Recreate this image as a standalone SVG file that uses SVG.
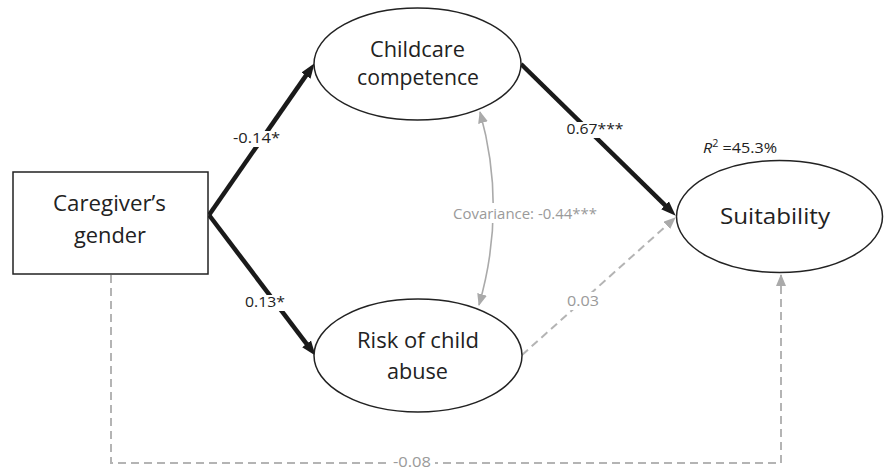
<svg xmlns="http://www.w3.org/2000/svg" width="885" height="470" viewBox="0 0 885 470">
<style>
.node{fill:#fff;stroke:#222;stroke-width:1.5}
.nt{font-family:"Open Sans","Liberation Sans",sans-serif;font-size:21px;fill:#222;text-anchor:middle}
.lbl{font-family:"Open Sans","Liberation Sans",sans-serif;font-size:15px;fill:#222;text-anchor:middle}
.glbl{font-family:"Open Sans","Liberation Sans",sans-serif;font-size:15px;fill:#9a9a9a;text-anchor:middle}
.bold{fill:none;stroke:#1a1a1a;stroke-width:4.5}
.grey{fill:none;stroke:#aaa;stroke-width:1.6}
.dash{fill:none;stroke:#b4b4b4;stroke-width:2;stroke-dasharray:8,5}
.bg{fill:#fff}
</style>
<defs>
<marker id="ab" markerUnits="userSpaceOnUse" markerWidth="16" markerHeight="12" refX="6" refY="6" orient="auto"><path d="M0,0.5 L15,6 L0,11.5 z" fill="#1a1a1a"/></marker>
<marker id="ag" markerUnits="userSpaceOnUse" markerWidth="12" markerHeight="10" refX="11" refY="5" orient="auto-start-reverse"><path d="M0,0 L12,5 L0,10 z" fill="#aaa"/></marker>
</defs>
<g id="connectors">
<line class="bold" x1="209" y1="215" x2="309.4" y2="70.6" marker-end="url(#ab)"/>
<line class="bold" x1="209" y1="215" x2="310.2" y2="348.6" marker-end="url(#ab)"/>
<line class="bold" x1="521" y1="64" x2="669.3" y2="209.4" marker-end="url(#ab)"/>
<path class="grey" d="M480,112 Q507,208 479,305" marker-start="url(#ag)" marker-end="url(#ag)"/>
<line class="dash" x1="522" y1="355" x2="675" y2="218" marker-end="url(#ag)"/>
<path class="dash" d="M111,275 V463 H781 V275" marker-end="url(#ag)"/>
<rect class="bg" x="231" y="131" width="52" height="16"/>
<text class="lbl" x="256.5" y="143" textLength="47" lengthAdjust="spacingAndGlyphs">-0.14*</text>
<rect class="bg" x="243" y="295" width="44" height="16"/>
<text class="lbl" x="265" y="307" textLength="40" lengthAdjust="spacingAndGlyphs">0.13*</text>
<rect class="bg" x="564" y="122" width="62" height="16"/>
<text class="lbl" x="595" y="134" textLength="57" lengthAdjust="spacingAndGlyphs">0.67***</text>
<rect class="bg" x="450" y="203" width="150" height="20"/>
<text class="glbl" x="525" y="219" textLength="144" lengthAdjust="spacingAndGlyphs">Covariance: -0.44***</text>
<rect class="bg" x="564" y="292" width="38" height="18"/>
<text class="glbl" x="583" y="306" textLength="32" lengthAdjust="spacingAndGlyphs">0.03</text>
<rect class="bg" x="389" y="455" width="46" height="15"/>
<text class="glbl" x="412" y="467" textLength="38" lengthAdjust="spacingAndGlyphs">-0.08</text>
<text class="lbl" x="740" y="153" style="font-size:15px" textLength="74" lengthAdjust="spacingAndGlyphs"><tspan font-style="italic">R</tspan><tspan dy="-6" font-size="10">2</tspan><tspan dy="6"> =45.3%</tspan></text>
</g>
<g id="gender">
<rect class="node" x="13" y="172" width="195" height="102"/>
<text class="nt" x="109.5" y="211" textLength="113" lengthAdjust="spacingAndGlyphs">Caregiver’s</text>
<text class="nt" x="110" y="243" textLength="72" lengthAdjust="spacingAndGlyphs">gender</text>
</g>
<g id="childcare">
<ellipse class="node" cx="417.5" cy="64" rx="103.5" ry="56"/>
<text class="nt" x="417.5" y="57" textLength="95" lengthAdjust="spacingAndGlyphs">Childcare</text>
<text class="nt" x="418" y="85" textLength="122" lengthAdjust="spacingAndGlyphs">competence</text>
</g>
<g id="risk">
<ellipse class="node" cx="418" cy="355.5" rx="104" ry="56.5"/>
<text class="nt" x="418" y="348" textLength="122" lengthAdjust="spacingAndGlyphs">Risk of child</text>
<text class="nt" x="417.5" y="379" textLength="61" lengthAdjust="spacingAndGlyphs">abuse</text>
</g>
<g id="suitability">
<ellipse class="node" cx="779.5" cy="216.5" rx="103" ry="56"/>
<text class="nt" x="775" y="224" textLength="110" lengthAdjust="spacingAndGlyphs">Suitability</text>
</g>
</svg>
